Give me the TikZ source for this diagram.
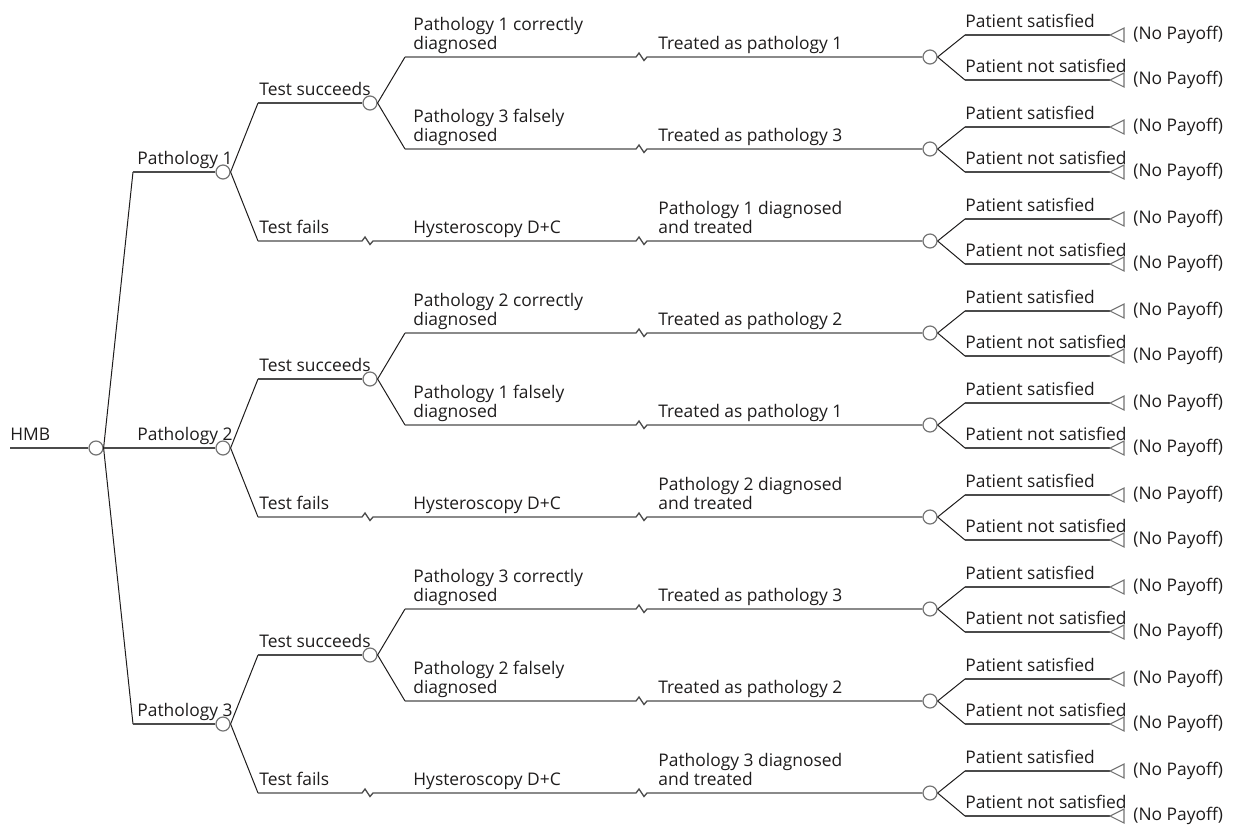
\documentclass[tikz,border=0pt]{standalone}
\usepackage{fontspec}
\setmainfont{Open Sans}
\usepackage{tikz}
\usetikzlibrary{positioning}
\definecolor{treeflat}{RGB}{75, 75, 75}
\definecolor{treedark}{RGB}{30, 28, 28}
\definecolor{treegray}{RGB}{115, 115, 115}

\tikzset{
  chance/.style={circle, draw=treegray, fill=white, line width=0.6pt,
    minimum size=7pt, inner sep=0pt},
  payoff/.style={draw=treegray, line width=0.55pt, fill=white, line join=miter},
  flat/.style={draw=treeflat, line width=0.65pt},
  diag/.style={draw=treedark, line width=0.5pt},
  lbl/.style={anchor=south west, inner sep=0pt, text depth=0pt, align=left,
    color=treedark, font=\fontsize{8.7}{9.6}\selectfont},
  payofftext/.style={inner sep=0pt, color=treedark,
    font=\fontsize{8.7}{9.6}\selectfont},
  zig/.style={to path={-- ++(3,-4) -- ++(5,7.5) -- (\tikztotarget)}}
}

\begin{document}
\begin{tikzpicture}[x=0.5pt, y=-0.5pt]
  \useasboundingbox (0,0) rectangle (1236,826);

  % Root
  \coordinate (hmb) at (10,448);
  \node[chance] (root) at (96,448) {};
  \draw[flat] (hmb) -- (root.west);
  \node[lbl] (lhmb) at (10,441) {HMB};

  % Pathologies
  \node[chance] (p1) at (223,172) {};
  \node[chance] (p2) at (223,448) {};
  \node[chance] (p3) at (223,724) {};
  \coordinate (cp1) at (133,172);
  \coordinate (cp3) at (133,724);
  \draw[diag] (root.east) -- (cp1);
  \draw[diag] (root.east) -- (cp3);
  \draw[flat] (cp1) -- (p1.west);
  \draw[flat] (root.east) -- (p2.west);
  \draw[flat] (cp3) -- (p3.west);
  \node[lbl] (lp1) at (137,165) {Pathology 1};
  \node[lbl] (lp2) at (137,441) {Pathology 2};
  \node[lbl] (lp3) at (137,717) {Pathology 3};

  % Final chance nodes
  \foreach \i/\y in {1/57, 2/149, 3/241, 4/333, 5/425, 6/517, 7/609, 8/701, 9/793} {
    \node[chance] (f\i) at (930,\y) {};
    \coordinate (zt\i) at (636,\y);
    \coordinate (ku\i) at (965,\y-22);
    \coordinate (kd\i) at (965,\y+23);
    \coordinate (tu\i) at (1110,\y-22);
    \coordinate (td\i) at (1110,\y+23);
    \draw[diag] (f\i.east) -- (ku\i);
    \draw[diag] (f\i.east) -- (kd\i);
    \draw[flat] (ku\i) -- (tu\i);
    \draw[flat] (kd\i) -- (td\i);
    \draw[payoff] (tu\i) -- ++(14,-7) -- ++(0,14) -- cycle;
    \draw[payoff] (td\i) -- ++(14,-7) -- ++(0,14) -- cycle;
    \node[lbl] (lu\i) at (965,\y-29) {Patient satisfied};
    \node[lbl] (ld\i) at (965,\y+16) {Patient not satisfied};
    \node[payofftext, right=11.5pt of tu\i, anchor=west] (nu\i) {(No Payoff)};
    \node[payofftext, right=11.5pt of td\i, anchor=west] (nd\i) {(No Payoff)};
  }

  % Pathology 1
  \node[chance] (s1) at (370,103) {};
  \coordinate (cs1) at (258,103);
  \coordinate (cf1) at (258,241);
  \coordinate (cd1) at (405,57);
  \coordinate (cd2) at (405,149);
  \coordinate (zh3) at (362,241);
  \draw[diag] (p1.east) -- (cs1);
  \draw[diag] (p1.east) -- (cf1);
  \draw[flat] (cs1) -- (s1.west);
  \draw[diag] (s1.east) -- (cd1);
  \draw[diag] (s1.east) -- (cd2);
  \draw[flat] (cd1) -- (zt1) to[zig] ++(11,0) -- (f1.west);
  \draw[flat] (cd2) -- (zt2) to[zig] ++(11,0) -- (f2.west);
  \draw[flat] (cf1) -- (zh3) to[zig] ++(11,0) -- (zt3) to[zig] ++(11,0) -- (f3.west);
  \node[lbl] (ls1) at (259,96) {Test succeeds};
  \node[lbl] (lf1) at (259,234) {Test fails};
  \node[lbl] (ld1) at (413,50) {Pathology 1 correctly\\diagnosed};
  \node[lbl] (ld2) at (413,142) {Pathology 3 falsely\\diagnosed};
  \node[lbl] (lh3) at (413,234) {Hysteroscopy D+C};
  \node[lbl] (lt1) at (658,50) {Treated as pathology 1};
  \node[lbl] (lt2) at (658,142) {Treated as pathology 3};
  \node[lbl] (lt3) at (658,234) {Pathology 1 diagnosed\\and treated};

  % Pathology 2
  \node[chance] (s2) at (370,379) {};
  \coordinate (cs2) at (258,379);
  \coordinate (cf2) at (258,517);
  \coordinate (cd4) at (405,333);
  \coordinate (cd5) at (405,425);
  \coordinate (zh6) at (362,517);
  \draw[diag] (p2.east) -- (cs2);
  \draw[diag] (p2.east) -- (cf2);
  \draw[flat] (cs2) -- (s2.west);
  \draw[diag] (s2.east) -- (cd4);
  \draw[diag] (s2.east) -- (cd5);
  \draw[flat] (cd4) -- (zt4) to[zig] ++(11,0) -- (f4.west);
  \draw[flat] (cd5) -- (zt5) to[zig] ++(11,0) -- (f5.west);
  \draw[flat] (cf2) -- (zh6) to[zig] ++(11,0) -- (zt6) to[zig] ++(11,0) -- (f6.west);
  \node[lbl] (ls2) at (259,372) {Test succeeds};
  \node[lbl] (lf2) at (259,510) {Test fails};
  \node[lbl] (ld4) at (413,326) {Pathology 2 correctly\\diagnosed};
  \node[lbl] (ld5) at (413,418) {Pathology 1 falsely\\diagnosed};
  \node[lbl] (lh6) at (413,510) {Hysteroscopy D+C};
  \node[lbl] (lt4) at (658,326) {Treated as pathology 2};
  \node[lbl] (lt5) at (658,418) {Treated as pathology 1};
  \node[lbl] (lt6) at (658,510) {Pathology 2 diagnosed\\and treated};

  % Pathology 3
  \node[chance] (s3) at (370,655) {};
  \coordinate (cs3) at (258,655);
  \coordinate (cf3) at (258,793);
  \coordinate (cd7) at (405,609);
  \coordinate (cd8) at (405,701);
  \coordinate (zh9) at (362,793);
  \draw[diag] (p3.east) -- (cs3);
  \draw[diag] (p3.east) -- (cf3);
  \draw[flat] (cs3) -- (s3.west);
  \draw[diag] (s3.east) -- (cd7);
  \draw[diag] (s3.east) -- (cd8);
  \draw[flat] (cd7) -- (zt7) to[zig] ++(11,0) -- (f7.west);
  \draw[flat] (cd8) -- (zt8) to[zig] ++(11,0) -- (f8.west);
  \draw[flat] (cf3) -- (zh9) to[zig] ++(11,0) -- (zt9) to[zig] ++(11,0) -- (f9.west);
  \node[lbl] (ls3) at (259,648) {Test succeeds};
  \node[lbl] (lf3) at (259,786) {Test fails};
  \node[lbl] (ld7) at (413,602) {Pathology 3 correctly\\diagnosed};
  \node[lbl] (ld8) at (413,694) {Pathology 2 falsely\\diagnosed};
  \node[lbl] (lh9) at (413,786) {Hysteroscopy D+C};
  \node[lbl] (lt7) at (658,602) {Treated as pathology 3};
  \node[lbl] (lt8) at (658,694) {Treated as pathology 2};
  \node[lbl] (lt9) at (658,786) {Pathology 3 diagnosed\\and treated};
\end{tikzpicture}
\end{document}
